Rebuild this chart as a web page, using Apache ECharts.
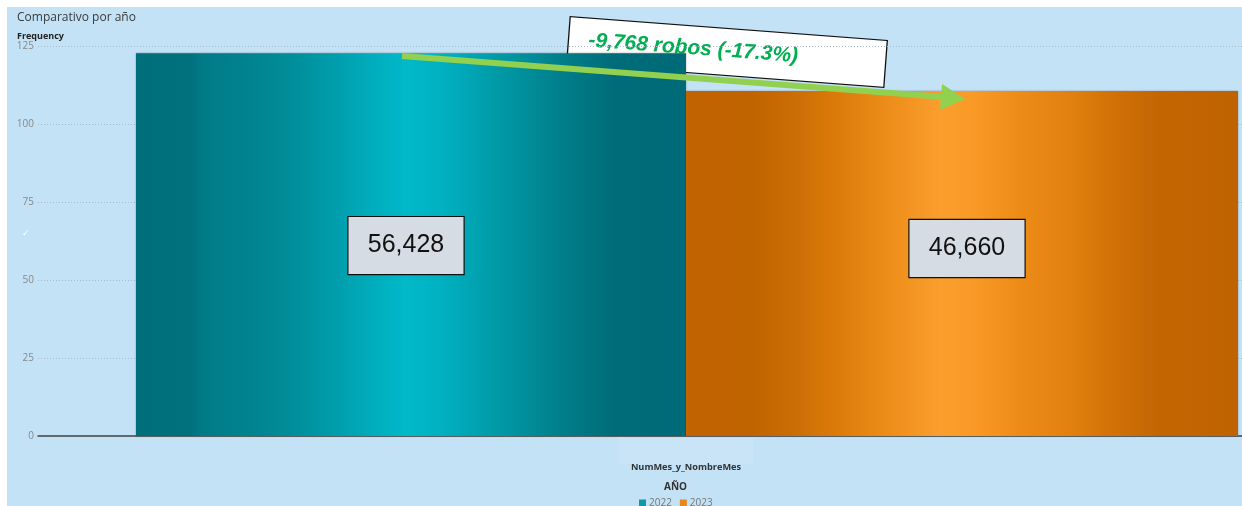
<!DOCTYPE html>
<html><head><meta charset="utf-8">
<script src="https://cdn.jsdelivr.net/npm/echarts@6/dist/echarts.min.js"></script>
<style>html,body{margin:0;padding:0;background:#fff}#c{width:1242px;height:506px}</style>
</head><body><div id="c"></div>
<script>
const categories = ['NumMes_y_NombreMes'];
const seriesNames = ['2022', '2023'];
const values2022 = [122.7];
const values2023 = [110.6];
const totals = ['56,428', '46,660'];
const yTicks = [0, 25, 50, 75, 100, 125];
const annotationText = '-9,768 robos (-17.3%)';

const chart = echarts.init(document.getElementById('c'));
const grad2022 = new echarts.graphic.LinearGradient(0, 0, 1, 0, [
  {offset: 0, color: '#006f7c'}, {offset: 0.1, color: '#00717e'},
  {offset: 0.12, color: '#007b87'}, {offset: 0.2, color: '#00838f'},
  {offset: 0.28, color: '#008d99'}, {offset: 0.36, color: '#009dab'},
  {offset: 0.43, color: '#00adbc'}, {offset: 0.49, color: '#00b9c9'},
  {offset: 0.55, color: '#00b2c2'}, {offset: 0.63, color: '#00a0ae'},
  {offset: 0.71, color: '#008e9a'}, {offset: 0.79, color: '#007b87'},
  {offset: 0.87, color: '#006c79'}, {offset: 1, color: '#006b78'}
]);
const grad2023 = new echarts.graphic.LinearGradient(0, 0, 1, 0, [
  {offset: 0, color: '#c06300'}, {offset: 0.12, color: '#c06400'},
  {offset: 0.2, color: '#cc6e05'}, {offset: 0.28, color: '#dc7c0a'},
  {offset: 0.36, color: '#ec8c18'}, {offset: 0.46, color: '#fb9e2e'},
  {offset: 0.52, color: '#fa9a26'}, {offset: 0.6, color: '#ee8c18'},
  {offset: 0.7, color: '#e0800e'}, {offset: 0.78, color: '#d07006'},
  {offset: 0.86, color: '#c36602'}, {offset: 1, color: '#bf6200'}
]);
const labelBox = {
  show: true, position: 'inside', fontFamily: 'Liberation Sans', fontSize: 25, color: '#111',
  backgroundColor: '#d6dce4', borderColor: '#111', borderWidth: 1.2,
  width: 115, height: 57, lineHeight: 57, align: 'center', verticalAlign: 'middle'
};
chart.setOption({
  animation: false,
  backgroundColor: '#ffffff',
  title: {text: 'Comparativo por año', left: 12, top: 7,
    textStyle: {fontFamily: 'Open Sans', fontSize: 12, fontWeight: 'normal', color: '#3a3a3a'}},
  legend: {
    data: [{name: seriesNames[0], itemStyle: {color: '#1596a6'}}, {name: seriesNames[1], itemStyle: {color: '#e8881c'}}],
    left: 634, top: 493, icon: 'rect', itemWidth: 7, itemHeight: 7, itemGap: 8,
    textStyle: {fontFamily: 'Open Sans', fontSize: 10, color: '#777', padding: [0, 0, 0, -2]}
  },
  grid: {left: 38, right: 0, top: 46, bottom: 70},
  xAxis: {
    type: 'category', data: categories,
    axisLabel: {show: false}, axisTick: {show: false},
    axisLine: {lineStyle: {color: '#444', width: 1.5}},
    name: categories[0], nameLocation: 'middle', nameGap: 27,
    nameTextStyle: {fontFamily: 'Open Sans', fontSize: 9.2, fontWeight: 'bold', color: '#333', padding: [0, 0, 0, 92]}
  },
  yAxis: {
    type: 'value', min: yTicks[0], max: yTicks[yTicks.length - 1], interval: 25,
    name: 'Frequency', nameLocation: 'end', nameGap: 5,
    nameTextStyle: {fontFamily: 'Open Sans', fontSize: 9, fontWeight: 'bold', color: '#222', align: 'left', padding: [0, 0, 0, -21]},
    axisLine: {show: false}, axisTick: {show: false},
    axisLabel: {fontFamily: 'Open Sans', fontSize: 10, color: '#888', margin: 4},
    splitLine: {lineStyle: {color: '#a9bccb', type: [1, 2], width: 1}}
  },
  series: [
    {name: 'spacer', type: 'bar', data: [0], barWidth: 94, barGap: '0%', silent: true,
      itemStyle: {color: 'rgba(0,0,0,0)'}},
    {name: seriesNames[0], type: 'bar', data: values2022, barWidth: 550, barGap: '0%',
      itemStyle: {color: grad2022, shadowColor: 'rgba(0,0,0,0.3)', shadowBlur: 2},
      label: Object.assign({}, labelBox, {formatter: () => totals[0], offset: [-5, 1]})},
    {name: seriesNames[1], type: 'bar', data: values2023, barWidth: 552, barGap: '0%',
      itemStyle: {color: grad2023, shadowColor: 'rgba(0,0,0,0.3)', shadowBlur: 2},
      label: Object.assign({}, labelBox, {formatter: () => totals[1], offset: [5, -15]})}
  ],
  graphic: [
    {type: 'rect', z: -10, silent: true, shape: {x: 7, y: 7, width: 1235, height: 499}, style: {fill: '#c4e2f6'}},
    {type: 'rect', z: -9, silent: true, shape: {x: 618, y: 437, width: 135, height: 27}, style: {fill: '#c9e4f6'}},
    {type: 'text', left: 22, top: 229, style: {text: '✓', fill: '#ffffff', fontSize: 9}},
    {type: 'text', left: 664, top: 482, style: {text: 'AÑO', fill: '#333', fontFamily: 'Open Sans', fontSize: 10, fontWeight: 'bold'}},
    {type: 'group', x: 727, y: 52, rotation: -0.075, z: 100, children: [
      {type: 'rect', shape: {x: -159, y: -23.5, width: 318, height: 47}, style: {fill: '#ffffff', stroke: '#111', lineWidth: 1.3}},
      {type: 'text', x: -139, y: -1, style: {text: annotationText, fill: '#00b050', fontFamily: 'Liberation Sans', fontSize: 21, fontWeight: 'bold', fontStyle: 'italic', verticalAlign: 'middle'}}
    ]},
    {type: 'polyline', z: 101, shape: {points: [[402, 56], [944, 97]]}, style: {stroke: '#92d050', lineWidth: 6}},
    {type: 'polygon', z: 101, shape: {points: [[942, 84], [965, 99], [940, 110]]}, style: {fill: '#92d050'}}
  ]
});
</script></body></html>
